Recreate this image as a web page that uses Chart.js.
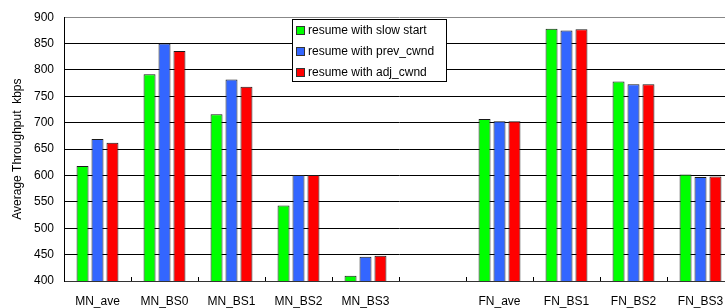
<!DOCTYPE html>
<html>
<head>
<meta charset="utf-8">
<script src="https://cdn.jsdelivr.net/npm/chart.js@4/dist/chart.umd.min.js"></script>
<style>
  html, body { margin: 0; padding: 0; background: #fff; overflow: hidden; }
  #wrap { width: 745px; height: 308px; }
</style>
</head>
<body>
<div id="wrap"><canvas id="tputChart" width="745" height="308"></canvas></div>
<script>
const categories = ["MN_ave", "MN_BS0", "MN_BS1", "MN_BS2", "MN_BS3", "", "FN_ave", "FN_BS1", "FN_BS2", "FN_BS3"];
const slowStart = [618, 792, 716, 543, 410, null, 707, 878, 778, 602];
const prevCwnd = [669, 850, 782, 601, 446, null, 703, 875, 773, 597];
const adjCwnd = [662, 836, 768, 601, 448, null, 703, 877, 773, 598];
const yTicks = [400, 450, 500, 550, 600, 650, 700, 750, 800, 850, 900];

const font = "'Liberation Sans', Arial, sans-serif";

// legend box drawn inside the plot, like the original
const boxLegend = {
    id: "boxLegend",
    afterDraw(chart) {
        const ctx = chart.ctx;
        const x = 292.5, y = 19.5, w = 154, h = 62;
        ctx.save();
        ctx.fillStyle = "#fff";
        ctx.fillRect(x, y, w, h);
        ctx.strokeStyle = "#000";
        ctx.lineWidth = 1;
        ctx.strokeRect(x, y, w, h);
        ctx.font = "12px " + font;
        ctx.textBaseline = "middle";
        chart.data.datasets.forEach((ds, i) => {
            const cy = 31 + i * 21;
            ctx.fillStyle = ds.backgroundColor;
            ctx.fillRect(297, cy - 4, 8, 8);
            ctx.strokeStyle = "#333";
            ctx.strokeRect(296.5, cy - 4.5, 8, 8);
            ctx.fillStyle = "#000";
            ctx.fillText(ds.label, 308, cy);
        });
        ctx.restore();
    }
};

// small upward tick marks between categories on the x axis
const innerTicks = {
    id: "innerTicks",
    afterDatasetsDraw(chart) {
        const xs = chart.scales.x;
        const bottom = chart.chartArea.bottom;
        const ctx = chart.ctx;
        ctx.save();
        ctx.strokeStyle = "#000";
        ctx.lineWidth = 1;
        for (let i = 1; i < categories.length; i++) {
            const px = Math.round((xs.getPixelForTick(i - 1) + xs.getPixelForTick(i)) / 2) + 0.5;
            ctx.beginPath();
            ctx.moveTo(px, bottom);
            ctx.lineTo(px, bottom - 4);
            ctx.stroke();
        }
        ctx.restore();
    }
};

new Chart(document.getElementById("tputChart"), {
    type: "bar",
    data: {
        labels: categories,
        datasets: [
            { label: "resume with slow start", data: slowStart, backgroundColor: "#00ff00" },
            { label: "resume with prev_cwnd", data: prevCwnd, backgroundColor: "#3366ff" },
            { label: "resume with adj_cwnd", data: adjCwnd, backgroundColor: "#ff0000" },
        ].map(ds => Object.assign(ds, {
            borderColor: "#1a1a1a",
            borderWidth: 1,
            categoryPercentage: 0.67,
            barPercentage: 0.8,
        })),
    },
    options: {
        responsive: false,
        animation: false,
        devicePixelRatio: 1,
        layout: { padding: { top: 12, right: 11, left: 0, bottom: 0 } },
        plugins: {
            legend: { display: false },
            tooltip: { enabled: false },
        },
        scales: {
            x: {
                grid: { display: false },
                border: { display: true, color: "#333", width: 1 },
                ticks: { color: "#000", font: { family: font, size: 12 }, padding: 5, maxRotation: 0, autoSkip: false },
                afterFit(scale) { scale.height = 27; },
            },
            y: {
                min: 400,
                max: 900,
                afterBuildTicks(scale) { scale.ticks = yTicks.map(v => ({ value: v })); },
                grid: {
                    drawTicks: false,
                    color: ctx => (ctx.tick && ctx.tick.value === 900 ? "#888" : "#000"),
                },
                border: { display: true, color: "#000", width: 1 },
                ticks: { color: "#000", font: { family: font, size: 12 }, padding: 10 },
                title: {
                    display: true,
                    text: "Average Throughput  kbps",
                    color: "#000",
                    font: { family: font, size: 12 },
                    padding: { top: 10, bottom: 0 },
                },
                afterFit(scale) { scale.width = 64; },
            },
        },
    },
    plugins: [innerTicks, boxLegend],
});
</script>
</body>
</html>
